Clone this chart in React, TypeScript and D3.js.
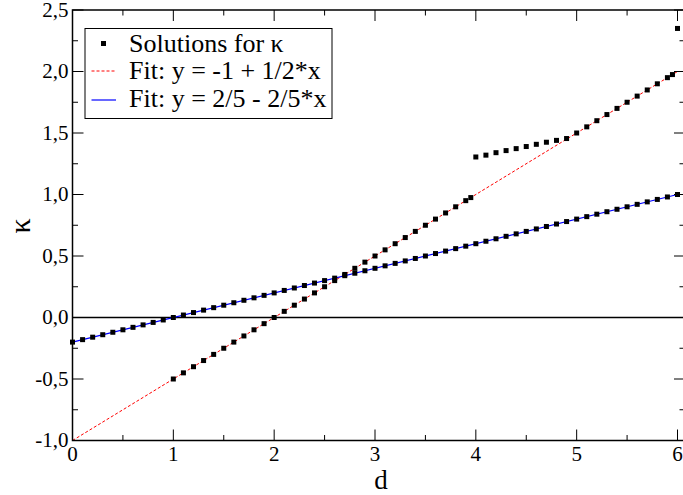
import React from "react";
import * as d3 from "d3";

// Solutions for kappa: branch following y = -0.2 + 0.2*d
const dBlue = [
  0.0, 0.1, 0.2, 0.3, 0.4, 0.5, 0.6, 0.7, 0.8, 0.9,
  1.0, 1.1, 1.2, 1.3, 1.4, 1.5, 1.6, 1.7, 1.8, 1.9,
  2.0, 2.1, 2.2, 2.3, 2.4, 2.5, 2.6, 2.7, 2.8, 2.9,
  3.0, 3.1, 3.2, 3.3, 3.4, 3.5, 3.6, 3.7, 3.8, 3.9,
  4.0, 4.1, 4.2, 4.3, 4.4, 4.5, 4.6, 4.7, 4.8, 4.9,
  5.0, 5.1, 5.2, 5.3, 5.4, 5.5, 5.6, 5.7, 5.8, 5.9,
  6.0,
];
const kBlue = [
  -0.2, -0.18, -0.16, -0.14, -0.12, -0.1, -0.08, -0.06, -0.04, -0.02,
  0.0, 0.02, 0.04, 0.06, 0.08, 0.1, 0.12, 0.14, 0.16, 0.18,
  0.2, 0.22, 0.24, 0.26, 0.28, 0.3, 0.32, 0.34, 0.36, 0.38,
  0.4, 0.42, 0.44, 0.46, 0.48, 0.5, 0.52, 0.54, 0.56, 0.58,
  0.6, 0.62, 0.64, 0.66, 0.68, 0.7, 0.72, 0.74, 0.76, 0.78,
  0.8, 0.82, 0.84, 0.86, 0.88, 0.9, 0.92, 0.94, 0.96, 0.98,
  1.0,
];
// branch following y = -1 + d/2 (lower part)
const dRedLow = [
  1.0, 1.1, 1.2, 1.3, 1.4, 1.5, 1.6, 1.7, 1.8, 1.9,
  2.0, 2.1, 2.2, 2.3, 2.4, 2.5, 2.6, 2.7, 2.8, 2.9,
  3.0, 3.1, 3.2, 3.3, 3.4, 3.5, 3.6, 3.7, 3.8, 3.9, 3.95,
];
const kRedLow = [
  -0.5, -0.45, -0.4, -0.35, -0.3, -0.25, -0.2, -0.15, -0.1, -0.05,
  0.0, 0.05, 0.1, 0.15, 0.2, 0.25, 0.3, 0.35, 0.4, 0.45,
  0.5, 0.55, 0.6, 0.65, 0.7, 0.75, 0.8, 0.85, 0.9, 0.95, 0.975,
];
// separate branch
const dMid = [4.0, 4.1, 4.2, 4.3, 4.4, 4.5, 4.6, 4.7, 4.8, 4.9];
const kMid = [1.305, 1.32, 1.34, 1.357, 1.373, 1.39, 1.408, 1.425, 1.44, 1.455];
// upper part back on the red line
const dRedHigh = [5.0, 5.1, 5.2, 5.3, 5.4, 5.5, 5.6, 5.7, 5.8, 5.9, 5.95];
const kRedHigh = [1.5, 1.55, 1.6, 1.65, 1.7, 1.75, 1.8, 1.85, 1.9, 1.95, 1.975];
// isolated point
const dLone = [6.0];
const kLone = [2.35];

// fit lines endpoints
const fitD = [0, 6];
const fitRed = [-1, 2];
const fitBlue = [-0.2, 1.0];

const xMajor = [0, 1, 2, 3, 4, 5, 6];
const xMinor = [0.5, 1.5, 2.5, 3.5, 4.5, 5.5];
const yMajor = [-1, -0.5, 0, 0.5, 1, 1.5, 2, 2.5];
const yMinor = [-0.75, -0.25, 0.25, 0.75, 1.25, 1.75, 2.25];

const legendLabels = ["Solutions for κ", "Fit: y = -1 + 1/2*x", "Fit: y = 2/5 - 2/5*x"];

const W = 683;
const H = 495;
const L = 72.5;
const R = 685;
const T = 10;
const B = 440.5;
const tStyle = { fontFamily: '"Liberation Serif"' };

export default function App() {
  const x = d3.scaleLinear().domain([0, 6]).range([L, 677.5]);
  const y = d3.scaleLinear().domain([-1, 2.5]).range([B, T]);

  const pts: [number, number][] = [];
  const add = (ds: number[], ks: number[]) => ds.forEach((d, i) => pts.push([d, ks[i]]));
  add(dBlue, kBlue);
  add(dRedLow, kRedLow);
  add(dMid, kMid);
  add(dRedHigh, kRedHigh);
  add(dLone, kLone);

  const line = d3
    .line<[number, number]>()
    .x((p) => x(p[0]))
    .y((p) => y(p[1]));
  const redLine = line(fitD.map((d, i) => [d, fitRed[i]] as [number, number]))!;
  const blueLine = line(fitD.map((d, i) => [d, fitBlue[i]] as [number, number]))!;

  const fmt = (v: number) => d3.format(".1f")(v).replace(".", ",").replace("−", "-");
  const ms = 5;
  const majL = 11;
  const minL = 5.5;

  return (
    <svg width={W} height={H} style={{ position: "absolute", left: 0, top: 0, background: "#fff" }}>
      <rect x={0} y={0} width={W} height={H} fill="#fff" />
      {/* zero line */}
      <line x1={L} x2={R} y1={y(0)} y2={y(0)} stroke="#000" strokeWidth={1.4} />
      {/* fits */}
      <path d={redLine} stroke="#ff0000" strokeWidth={1} strokeDasharray="3,2" fill="none" />
      <path d={blueLine} stroke="#0000ff" strokeWidth={1.2} fill="none" />
      {/* points */}
      {pts.map((p, i) => (
        <rect
          key={i}
          x={x(p[0]) - ms / 2}
          y={y(p[1]) - ms / 2}
          width={ms}
          height={ms}
          fill="#000"
        />
      ))}
      {/* frame */}
      <rect x={L} y={T} width={R - L} height={B - T} fill="none" stroke="#000" strokeWidth={1.5} />
      {/* x ticks */}
      {xMajor.map((v) => (
        <g key={"xM" + v}>
          <line x1={x(v)} x2={x(v)} y1={B} y2={B - majL} stroke="#000" strokeWidth={1} />
          <line x1={x(v)} x2={x(v)} y1={T} y2={T + majL} stroke="#000" strokeWidth={1} />
          <text x={x(v)} y={461} textAnchor="middle" fontSize={21} style={tStyle}>
            {String(v)}
          </text>
        </g>
      ))}
      {xMinor.map((v) => (
        <g key={"xm" + v}>
          <line x1={x(v)} x2={x(v)} y1={B} y2={B - minL} stroke="#000" strokeWidth={1} />
          <line x1={x(v)} x2={x(v)} y1={T} y2={T + minL} stroke="#000" strokeWidth={1} />
        </g>
      ))}
      {/* y ticks */}
      {yMajor.map((v) => (
        <g key={"yM" + v}>
          <line x1={L} x2={L + majL} y1={y(v)} y2={y(v)} stroke="#000" strokeWidth={1} />
          <line x1={R} x2={R - majL} y1={y(v)} y2={y(v)} stroke="#000" strokeWidth={1} />
          <text x={68.5} y={y(v) + 6.5} textAnchor="end" fontSize={21} style={tStyle}>
            {fmt(v)}
          </text>
        </g>
      ))}
      {yMinor.map((v) => (
        <g key={"ym" + v}>
          <line x1={L} x2={L + minL} y1={y(v)} y2={y(v)} stroke="#000" strokeWidth={1} />
          <line x1={R} x2={R - minL} y1={y(v)} y2={y(v)} stroke="#000" strokeWidth={1} />
        </g>
      ))}
      {/* axis labels */}
      <text x={381} y={489} textAnchor="middle" fontSize={27} style={tStyle}>
        d
      </text>
      <text
        transform="translate(30,226) rotate(-90)"
        textAnchor="middle"
        fontSize={30}
        style={tStyle}
      >
        κ
      </text>
      {/* legend */}
      <rect x={85} y={28.5} width={247} height={90} fill="#fff" stroke="#000" strokeWidth={1} />
      <rect x={103.5 - 2.5} y={43.5 - 2.5} width={5} height={5} fill="#000" />
      <line x1={91.5} x2={116} y1={71} y2={71} stroke="#ff0000" strokeWidth={1} strokeDasharray="3,2" />
      <line x1={91.5} x2={116} y1={100} y2={100} stroke="#0000ff" strokeWidth={1.2} />
      {legendLabels.map((t, i) => (
        <text key={t} x={129} y={51.7 + i * 27.5} fontSize={26} style={tStyle}>
          {t}
        </text>
      ))}
    </svg>
  );
}
